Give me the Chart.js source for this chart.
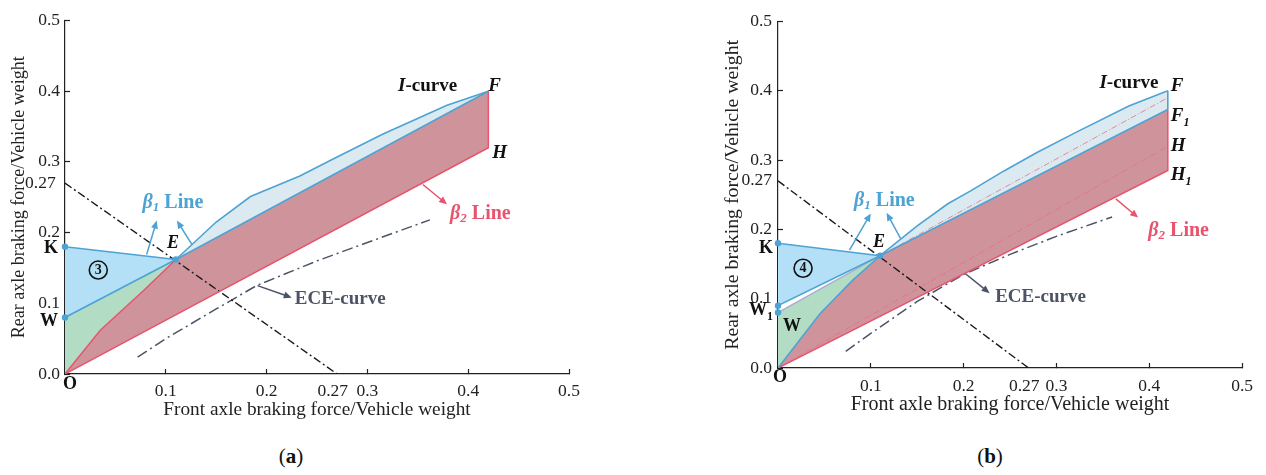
<!DOCTYPE html>
<html>
<head>
<meta charset="utf-8">
<title>Braking force distribution</title>
<script src="https://cdn.jsdelivr.net/npm/chart.js@4.4.1/dist/chart.umd.min.js"></script>
<style>
  html, body { margin: 0; padding: 0; background: #fff; }
  body { width: 1266px; height: 475px; position: relative; overflow: hidden; font-family: 'Liberation Serif', serif; }
  .panel { position: absolute; top: 0; height: 440px; }
  #panelA { left: 0; width: 640px; }
  #panelB { left: 640px; width: 626px; }
  .caption { position: absolute; top: 444px; width: 60px; font-size: 21px; text-align: center; color: #111; }
</style>
</head>
<body>
<div class="panel" id="panelA"><canvas id="chartA"></canvas></div>
<div class="panel" id="panelB"><canvas id="chartB"></canvas></div>
<div class="caption" style="left:261px">(<b>a</b>)</div>
<div class="caption" style="left:960px">(<b>b</b>)</div>
<script>
const SERIF = "'Liberation Serif', 'Times New Roman', serif";

// axis ticks (both panels)
const xTickVals = [0, 0.1, 0.2, 0.27, 0.3, 0.4, 0.5];
const yTickVals = [0, 0.1, 0.2, 0.27, 0.3, 0.4, 0.5];

// front + rear = 0.27 boundary
const limitX = [0, 0.27];
const limitY = [0.27, 0];

const O = [0, 0];

// ---- panel (a) ----
const aK = [0, 0.18];
const aW = [0, 0.08];
const aE = [0.11, 0.162];
const aF = [0.42, 0.40];
const aH = [0.42, 0.32];
const aCurveX = [0.11, 0.15, 0.184, 0.233, 0.266, 0.315, 0.379, 0.42];   // I-curve
const aCurveY = [0.162, 0.215, 0.251, 0.28, 0.304, 0.339, 0.38, 0.40];
const aLowX = [0, 0.035, 0.078, 0.11];                                   // O -> E
const aLowY = [0, 0.062, 0.118, 0.162];
const aEceX = [0.072, 0.1, 0.15, 0.19, 0.25, 0.3, 0.362];
const aEceY = [0.024, 0.05, 0.092, 0.125, 0.16, 0.186, 0.218];

// ---- panel (b) ----
const bK = [0, 0.18];
const bW1 = [0, 0.09];
const bW = [0, 0.08];
const bE = [0.11, 0.162];
const bF = [0.42, 0.40];
const bF1 = [0.42, 0.373];
const bH = [0.42, 0.32];
const bH1 = [0.42, 0.285];
const bOldF = [0.42, 0.39];
const bCurveX = [0.11, 0.15, 0.183, 0.208, 0.243, 0.279, 0.321, 0.378, 0.42];
const bCurveY = [0.162, 0.205, 0.237, 0.256, 0.284, 0.311, 0.34, 0.378, 0.40];
const bLowX = [0, 0.045, 0.08, 0.11];
const bLowY = [0, 0.078, 0.126, 0.162];
const bEceX = [0.073, 0.1, 0.15, 0.2, 0.25, 0.3, 0.36];
const bEceY = [0.024, 0.05, 0.096, 0.135, 0.164, 0.19, 0.218];

// colours
const BLUE = '#4ca3d4';
const RED = '#e8536d';
const SKY = '#b4e0f7';
const PALE = '#dbeaf1';
const GREEN = '#b3dcc4';
const ROSE = '#cf949b';
const GREY = '#4b5466';
const INK = '#111';

function P(a) { return {x: a[0], y: a[1]}; }
function pts(xs, ys) { return xs.map((x, i) => ({x: x, y: ys[i]})); }

function stroke(data, color, width, dash, order) {
  return {data, borderColor: color, borderWidth: width, borderDash: dash || [],
    pointRadius: 0, fill: false, tension: 0, order};
}
function shape(data, color, order) {
  return {data, borderWidth: 0, borderColor: 'rgba(0,0,0,0)', backgroundColor: color,
    pointRadius: 0, fill: 'shape', tension: 0, order};
}
function dots(list, order) {
  return {data: list.map(P), showLine: false, pointRadius: 3.2, pointBackgroundColor: BLUE,
    pointBorderWidth: 0, clip: false, order};
}

// 0.27 label sits a little off its mark, padded with trailing spaces
function fmt(v, pad) { return v === 0.27 ? '0.27' + pad : v.toFixed(1); }

function axes(cfg) {
  const tickColor = c => (c.tick && c.tick.value === 0.27 ? 'rgba(0,0,0,0)' : '#222');
  return {
    x: {
      type: 'linear', min: 0, max: 0.5,
      afterBuildTicks: s => { s.ticks = xTickVals.map(v => ({value: v})); },
      afterFit: s => { s.height = cfg.xHeight; },
      border: {color: '#222', width: 1.2},
      grid: {drawOnChartArea: false, tickLength: -5, tickWidth: 1.2, tickColor},
      ticks: {font: {family: SERIF, size: cfg.tick}, color: '#222', padding: cfg.xPad,
        maxRotation: 0, autoSkip: false, callback: v => (v === 0 ? '' : fmt(v, '  '))},
      title: {display: true, text: 'Front axle braking force/Vehicle weight', color: '#222',
        font: {family: SERIF, size: cfg.xTitle}, padding: {top: 0, bottom: cfg.xTitlePad}}
    },
    y: {
      type: 'linear', min: 0, max: 0.5,
      afterBuildTicks: s => { s.ticks = yTickVals.map(v => ({value: v})); },
      afterFit: s => { s.width = cfg.yWidth; },
      border: {color: '#222', width: 1.2},
      grid: {drawOnChartArea: false, tickLength: -5, tickWidth: 1.2, tickColor},
      ticks: {font: {family: SERIF, size: cfg.tick}, color: '#222', padding: cfg.yPad,
        autoSkip: false, callback: v => fmt(v, cfg.yPad27)},
      title: {display: true, text: 'Rear axle braking force/Vehicle weight', color: '#222',
        font: {family: SERIF, size: cfg.yTitle}, padding: {top: cfg.yTitlePad, bottom: 0}}
    }
  };
}

// rich text: parts = [text, font, baseline shift]
function drawRich(ctx, x, y, parts, align, color) {
  let total = 0;
  parts.forEach(p => { ctx.font = p[1]; total += ctx.measureText(p[0]).width; });
  let cx = align === 'right' ? x - total : align === 'center' ? x - total / 2 : x;
  ctx.fillStyle = color;
  ctx.textBaseline = 'middle';
  ctx.textAlign = 'left';
  parts.forEach(p => {
    ctx.font = p[1];
    ctx.fillText(p[0], cx, y + (p[2] || 0));
    cx += ctx.measureText(p[0]).width;
  });
}

function drawArrow(ctx, x0, y0, x1, y1, color) {
  const ang = Math.atan2(y1 - y0, x1 - x0);
  const len = 8, half = 3.5;
  ctx.strokeStyle = color;
  ctx.fillStyle = color;
  ctx.lineWidth = 1.5;
  ctx.beginPath();
  ctx.moveTo(x0, y0);
  ctx.lineTo(x1 - Math.cos(ang) * len * 0.8, y1 - Math.sin(ang) * len * 0.8);
  ctx.stroke();
  ctx.beginPath();
  ctx.moveTo(x1, y1);
  ctx.lineTo(x1 - Math.cos(ang) * len + Math.sin(ang) * half, y1 - Math.sin(ang) * len - Math.cos(ang) * half);
  ctx.lineTo(x1 - Math.cos(ang) * len - Math.sin(ang) * half, y1 - Math.sin(ang) * len + Math.cos(ang) * half);
  ctx.closePath();
  ctx.fill();
}

function notesPlugin(id, notes, arrows) {
  return {
    id,
    afterDatasetsDraw(chart) {
      const {ctx, scales: {x, y}} = chart;
      ctx.save();
      arrows.forEach(a => drawArrow(ctx,
        x.getPixelForValue(a.from[0]), y.getPixelForValue(a.from[1]),
        x.getPixelForValue(a.to[0]), y.getPixelForValue(a.to[1]), a.color));
      notes.forEach(n => {
        const px = x.getPixelForValue(n.at[0]) + (n.dx || 0);
        const py = y.getPixelForValue(n.at[1]) + (n.dy || 0);
        if (n.ring) {
          ctx.beginPath();
          ctx.strokeStyle = INK;
          ctx.lineWidth = 1.6;
          ctx.arc(px, py, 9, 0, Math.PI * 2);
          ctx.stroke();
        }
        drawRich(ctx, px, py, n.parts, n.align || 'left', n.color || INK);
      });
      ctx.restore();
    }
  };
}

const B18 = 'bold 18px ' + SERIF;
const BI18 = 'italic bold 18px ' + SERIF;
const BI12 = 'italic bold 12px ' + SERIF;
const B12 = 'bold 12px ' + SERIF;
const B19 = 'bold 19px ' + SERIF;
const BI19 = 'italic bold 19px ' + SERIF;
const B20 = 'bold 20px ' + SERIF;
const BI20 = 'italic bold 20px ' + SERIF;
const BI13 = 'italic bold 13px ' + SERIF;

function betaLabel(sub) { return [['β', BI20], [sub, BI13, 5], [' Line', B20]]; }

// ---- panel (a) chart ----
const notesA = [
  {at: aK, dx: -7, dy: 2, align: 'right', parts: [['K', B18]]},
  {at: aW, dx: -7, dy: 4, align: 'right', parts: [['W', B18]]},
  {at: O, dx: 5, dy: 10, align: 'center', parts: [['O', B18]]},
  {at: aE, dx: -3, dy: -16, align: 'center', parts: [['E', BI18]]},
  {at: [0.033, 0.147], align: 'center', ring: true, parts: [['3', 'bold 14px ' + SERIF]]},
  {at: [0.077, 0.242], color: BLUE, parts: betaLabel('1')},
  {at: [0.389, 0.407], align: 'right', parts: [['I', BI19], ['-curve', B19]]},
  {at: aF, dx: 0, dy: -5, parts: [['F', BI19]]},
  {at: aH, dx: 4, dy: 5, parts: [['H', BI19]]},
  {at: [0.382, 0.227], color: RED, parts: betaLabel('2')},
  {at: [0.228, 0.106], color: GREY, parts: [['ECE-curve', B19]]}
];
const arrowsA = [
  {from: [0.081, 0.169], to: [0.091, 0.217], color: BLUE},
  {from: [0.126, 0.183], to: [0.111, 0.217], color: BLUE},
  {from: [0.355, 0.268], to: [0.379, 0.240], color: RED},
  {from: [0.191, 0.125], to: [0.225, 0.108], color: GREY}
];

new Chart(document.getElementById('chartA'), {
  type: 'line',
  data: {
    datasets: [
      dots([aK, aW, aE], 1),
      stroke([P(aK), P(aE)], BLUE, 1.6, null, 2),
      stroke([P(aW), P(aE)], BLUE, 1.6, null, 2),
      stroke(pts(aCurveX, aCurveY), BLUE, 1.6, null, 2),
      stroke([P(aE), P(aF)], BLUE, 1.6, null, 2),
      stroke([P(aF), P(aH), P(O)], RED, 1.5, null, 3),
      stroke(pts(aLowX, aLowY), RED, 1.5, null, 3),
      stroke(pts(limitX, limitY), '#1a1a1a', 1.4, [8, 3, 2, 3], 4),
      stroke(pts(aEceX, aEceY), GREY, 1.5, [11, 4, 2, 4], 4),
      shape([P(aK), P(aE), P(aW)], SKY, 10),
      shape([P(aW), P(aE)].concat(pts(aLowX, aLowY).reverse()), GREEN, 11),
      shape(pts(aLowX, aLowY).concat([P(aF), P(aH)]), ROSE, 12),
      shape(pts(aCurveX, aCurveY), PALE, 13)
    ]
  },
  options: {
    responsive: true, maintainAspectRatio: false, animation: false, events: [],
    layout: {padding: {left: 0, top: 17, right: 71, bottom: 0}},
    scales: axes({xHeight: 66, yWidth: 65, tick: 17.5, xPad: 12, yPad: 10, yPad27: ' ',
      xTitle: 19.3, xTitlePad: 18.4, yTitle: 18, yTitlePad: 8.2}),
    plugins: {legend: {display: false}, tooltip: {enabled: false}}
  },
  plugins: [notesPlugin('notesA', notesA, arrowsA)]
});

// ---- panel (b) chart ----
const notesB = [
  {at: bK, dx: -5, dy: 5, align: 'right', parts: [['K', B18]]},
  {at: bW1, dx: -5, dy: 5, align: 'right', parts: [['W', B18], ['1', B12, 6]]},
  {at: bW, dx: 5, dy: 14, parts: [['W', B18]]},
  {at: O, dx: 2, dy: 9, align: 'center', parts: [['O', B18]]},
  {at: bE, dx: -1, dy: -13, align: 'center', parts: [['E', BI18]]},
  {at: [0.027, 0.144], align: 'center', ring: true, parts: [['4', 'bold 14px ' + SERIF]]},
  {at: [0.082, 0.241], color: BLUE, parts: betaLabel('1')},
  {at: [0.41, 0.411], align: 'right', parts: [['I', BI19], ['-curve', B19]]},
  {at: bF, dx: 3, dy: -5, parts: [['F', BI19]]},
  {at: bF1, dx: 3, dy: 7, parts: [['F', BI19], ['1', BI12, 6]]},
  {at: bH, dx: 3, dy: 0, parts: [['H', BI19]]},
  {at: bH1, dx: 3, dy: 5, parts: [['H', BI19], ['1', BI12, 6]]},
  {at: [0.399, 0.198], color: RED, parts: betaLabel('2')},
  {at: [0.234, 0.102], color: GREY, parts: [['ECE-curve', B19]]}
];
const arrowsB = [
  {from: [0.077, 0.170], to: [0.100, 0.223], color: BLUE},
  {from: [0.132, 0.187], to: [0.117, 0.224], color: BLUE},
  {from: [0.364, 0.244], to: [0.388, 0.217], color: RED},
  {from: [0.202, 0.136], to: [0.228, 0.108], color: GREY}
];

new Chart(document.getElementById('chartB'), {
  type: 'line',
  data: {
    datasets: [
      dots([bK, bW1, bW, bE], 1),
      stroke([P(bK), P(bE)], BLUE, 1.6, null, 2),
      stroke([P(bW1), P(bE)], BLUE, 1.6, null, 2),
      stroke([P(bW), P(bE)], '#a9aed2', 1.4, null, 2),
      stroke(pts(bLowX, bLowY), BLUE, 1.6, null, 2),
      stroke(pts(bCurveX, bCurveY), BLUE, 1.6, null, 2),
      stroke([P(bE), P(bF1)], BLUE, 1.6, null, 2),
      stroke([P(bF), P(bF1)], BLUE, 1.6, null, 2),
      stroke([P(bF1), P(bH1), P(O)], RED, 1.5, null, 3),
      stroke([P(bE), P(bOldF)], '#e66f80', 0.8, [6, 2, 1, 2], 3),
      stroke([P(O), P(bH)], '#e66f80', 0.8, [6, 2, 1, 2], 3),
      stroke(pts(limitX, limitY), '#1a1a1a', 1.4, [8, 3, 2, 3], 4),
      stroke(pts(bEceX, bEceY), GREY, 1.5, [11, 4, 2, 4], 4),
      shape([P(bK), P(bE), P(bW1)], SKY, 10),
      shape([P(bW), P(bE)].concat(pts(bLowX, bLowY).reverse()), GREEN, 11),
      shape(pts(bLowX, bLowY).concat([P(bF1), P(bH1)]), ROSE, 12),
      shape(pts(bCurveX, bCurveY).concat([P(bF1)]), PALE, 13)
    ]
  },
  options: {
    responsive: true, maintainAspectRatio: false, animation: false, events: [],
    layout: {padding: {left: 80, top: 20, right: 18, bottom: 0}},
    scales: axes({xHeight: 72, yWidth: 58, tick: 17.5, xPad: 13, yPad: 11, yPad27: '',
      xTitle: 20, xTitlePad: 23, yTitle: 19.8, yTitlePad: 1.1}),
    plugins: {legend: {display: false}, tooltip: {enabled: false}}
  },
  plugins: [notesPlugin('notesB', notesB, arrowsB)]
});
</script>
</body>
</html>
